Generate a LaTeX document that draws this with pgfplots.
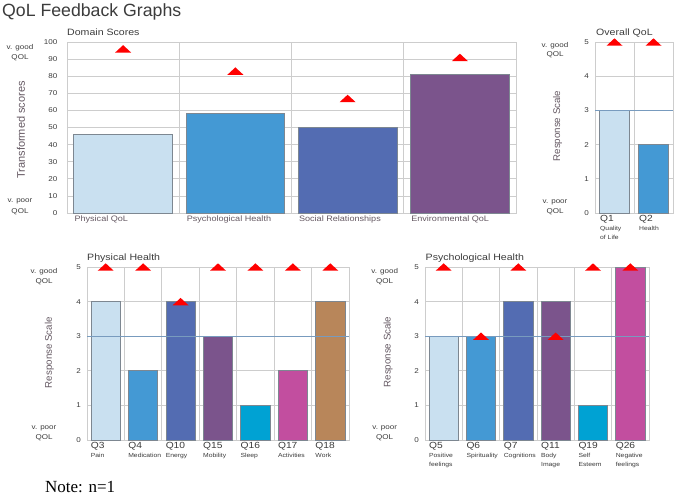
\documentclass[border=0pt]{standalone}
\usepackage{fontspec}
\setmainfont{Liberation Sans}
\newfontfamily\lbl[FakeStretch=1.15]{Liberation Sans}
\newfontfamily\serif{Liberation Serif}
\usepackage{pgfplots}
\pgfplotsset{compat=1.18}

\definecolor{c1}{RGB}{201,224,240}
\definecolor{c2}{RGB}{68,153,212}
\definecolor{c3}{RGB}{83,108,178}
\definecolor{c4}{RGB}{123,84,140}
\definecolor{c5}{RGB}{0,162,211}
\definecolor{c6}{RGB}{194,78,159}
\definecolor{c7}{RGB}{184,134,90}
\definecolor{gridc}{RGB}{205,205,205}
\definecolor{bordc}{RGB}{125,135,145}
\definecolor{refc}{RGB}{120,155,190}
\definecolor{txt}{RGB}{60,60,60}
\definecolor{ylab}{RGB}{100,88,98}
\definecolor{tri}{RGB}{255,0,0}

% flat red triangle used for the target markers
\pgfdeclareplotmark{wtri}{%
  \pgfpathmoveto{\pgfqpoint{-8pt}{-3.7pt}}%
  \pgfpathlineto{\pgfqpoint{8pt}{-3.7pt}}%
  \pgfpathlineto{\pgfqpoint{0pt}{3.7pt}}%
  \pgfpathclose\pgfusepathqfill}

\newcommand\sub{\fontsize{5.9}{6.3}\selectfont}
\newcommand\qbar[3]{\addplot[ybar, bar shift=0pt, bar width=#1, fill=#2, draw=bordc, line width=0.7pt] coordinates {#3};}

\pgfplotsset{qol/.style={
  scale only axis, clip=false, anchor=south west,
  axis line style={draw=gridc, line width=0.8pt},
  grid style={gridc, line width=0.8pt},
  ymajorgrids, xminorgrids,
  major tick length=0pt, minor tick length=0pt,
  tick style={draw=none},
  /pgf/number format/assume math mode=true,
  yticklabel style={font=\lbl\fontsize{7}{7}\selectfont, text=txt, inner sep=0pt, xshift=-6pt},
  xticklabel style={anchor=north west, align=left, inner sep=0pt, yshift=-2.5pt,
    font=\lbl\fontsize{8.9}{9}\selectfont, text=txt},
}}

\begin{document}
\begin{tikzpicture}[x=1pt,y=1pt]
\useasboundingbox (0,0) rectangle (677,-496);

\node[anchor=base west, inner sep=0pt, text=txt, font=\fontsize{17.7}{18}\selectfont] at (2,-16.7) {QoL Feedback Graphs};

% ---------- Domain scores
\begin{axis}[qol, at={(67pt,-213pt)}, width=449pt, height=171pt,
  xmin=-0.5, xmax=3.5, ymin=0, ymax=100, ytick={0,10,...,100},
  xtick={0,...,3}, minor xtick={0.5,1.5,2.5},
  yticklabel style={xshift=-3.5pt},
  xticklabels={Physical QoL, Psychological Health, Social Relationships, Environmental QoL},
  xticklabel style={xshift=-48.8pt, yshift=-0.5pt, font=\lbl\fontsize{7.9}{8}\selectfont, text=ylab}]
\qbar{0.88}{c1}{(0,46)}
\qbar{0.88}{c2}{(1,58)}
\qbar{0.88}{c3}{(2,50)}
\qbar{0.88}{c4}{(3,81)}
\addplot[only marks, mark=wtri, color=tri] coordinates {(0,96)(1,83)(2,67)(3,91)};
\end{axis}

% ---------- Overall QoL
\begin{axis}[qol, at={(595pt,-213pt)}, width=78pt, height=171pt,
  xmin=-0.5, xmax=1.5, ymin=0, ymax=5, ytick={0,...,5},
  xtick={0,1}, minor xtick={0.5},
  xticklabels={{Q1\\\sub Quality\\\sub of Life}, {Q2\\\sub Health}},
  xticklabel style={xshift=-14.5pt}]
\qbar{0.77}{c1}{(0,3)}
\qbar{0.77}{c2}{(1,2)}
\addplot[refc, line width=0.9pt] coordinates {(-0.5,3)(1.5,3)};
\addplot[only marks, mark=wtri, color=tri] coordinates {(0,5)(1,5)};
\end{axis}

% ---------- Physical health
\begin{axis}[qol, at={(87pt,-440pt)}, width=262pt, height=173pt,
  xmin=-0.5, xmax=6.5, ymin=0, ymax=5, ytick={0,...,5},
  xtick={0,...,6}, minor xtick={0.5,1.5,...,5.5},
  xticklabels={{Q3\\\sub Pain}, {Q4\\\sub Medication}, {Q10\\\sub Energy},
    {Q15\\\sub Mobility}, {Q16\\\sub Sleep}, {Q17\\\sub Activities}, {Q18\\\sub Work}},
  xticklabel style={xshift=-15pt}]
\qbar{0.78}{c1}{(0,4)}
\qbar{0.78}{c2}{(1,2)}
\qbar{0.78}{c3}{(2,4)}
\qbar{0.78}{c4}{(3,3)}
\qbar{0.78}{c5}{(4,1)}
\qbar{0.78}{c6}{(5,2)}
\qbar{0.78}{c7}{(6,4)}
\addplot[refc, line width=0.9pt] coordinates {(-0.5,3)(6.5,3)};
\addplot[only marks, mark=wtri, color=tri] coordinates {(0,5)(1,5)(2,4)(3,5)(4,5)(5,5)(6,5)};
\end{axis}

% ---------- Psychological health
\begin{axis}[qol, at={(425pt,-440pt)}, width=224pt, height=173pt,
  xmin=-0.5, xmax=5.5, ymin=0, ymax=5, ytick={0,...,5},
  xtick={0,...,5}, minor xtick={0.5,1.5,...,4.5},
  xticklabels={{Q5\\\sub Positive\\\sub feelings}, {Q6\\\sub Spirituality}, {Q7\\\sub Cognitions},
    {Q11\\\sub Body\\\sub Image}, {Q19\\\sub Self\\\sub Esteem}, {Q26\\\sub Negative\\\sub feelings}},
  xticklabel style={xshift=-14.7pt}]
\qbar{0.78}{c1}{(0,3)}
\qbar{0.78}{c2}{(1,3)}
\qbar{0.78}{c3}{(2,4)}
\qbar{0.78}{c4}{(3,4)}
\qbar{0.78}{c5}{(4,1)}
\qbar{0.78}{c6}{(5,5)}
\addplot[refc, line width=0.9pt] coordinates {(-0.5,3)(5.5,3)};
\addplot[only marks, mark=wtri, color=tri] coordinates {(0,5)(1,3)(2,5)(3,3)(4,5)(5,5)};
\end{axis}

% ---------- chart titles
\begin{scope}[every node/.style={anchor=base west, inner sep=0pt, text=txt, font=\lbl\fontsize{9.2}{10}\selectfont}]
\node at (67,-35) {Domain Scores};
\node at (596,-35) {Overall QoL};
\node at (87,-260) {Physical Health};
\node at (425.5,-260) {Psychological Health};
\end{scope}

% ---------- scale end labels
\begin{scope}[every node/.style={anchor=base, inner sep=0pt, text=txt, font=\lbl\fontsize{7}{8}\selectfont}]
\node at (20,-49) {v. good}; \node at (20,-59) {QOL};
\node at (20,-202) {v. poor}; \node at (20,-213) {QOL};
\node at (555,-47.5) {v. good}; \node at (555,-56.5) {QOL};
\node at (555,-203) {v. poor}; \node at (555,-213) {QOL};
\node at (44,-273) {v. good}; \node at (44,-283.5) {QOL};
\node at (44,-429) {v. poor}; \node at (44,-439) {QOL};
\node at (384.7,-273) {v. good}; \node at (384.7,-283.5) {QOL};
\node at (384.7,-429) {v. poor}; \node at (384.7,-439) {QOL};
\end{scope}

% ---------- axis titles
\begin{scope}[every node/.style={rotate=90, inner sep=0pt, text=ylab}]
\node[font=\fontsize{11}{12}\selectfont] at (21,-130) {Transformed scores};
\node[font=\fontsize{9.7}{10}\selectfont] at (557.5,-126) {Response Scale};
\node[font=\fontsize{9.7}{10}\selectfont] at (49.3,-352.7) {Response Scale};
\node[font=\fontsize{9.7}{10}\selectfont] at (388,-352) {Response Scale};
\end{scope}

\node[anchor=base west, inner sep=0pt, font=\serif\fontsize{17}{18}\selectfont] at (45,-492.7) {Note: n=1};
\end{tikzpicture}
\end{document}
